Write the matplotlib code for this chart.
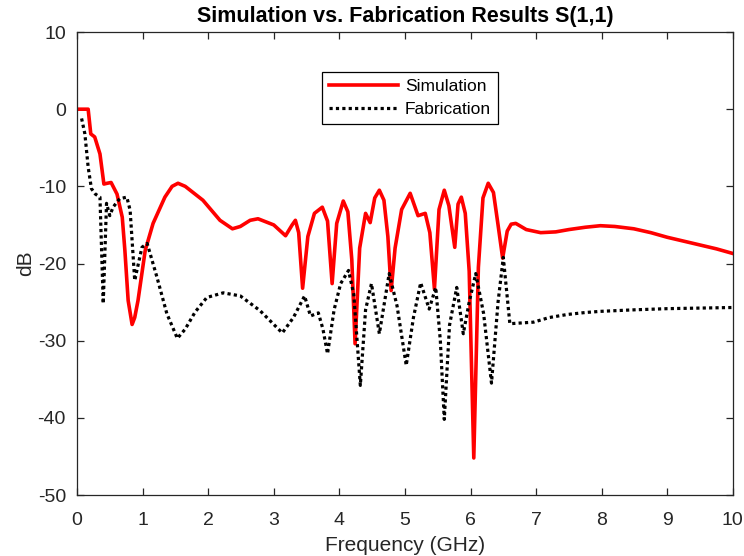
import matplotlib
matplotlib.use("Agg")
import matplotlib.pyplot as plt

plt.rcParams['font.family'] = ['Liberation Sans', 'DejaVu Sans']
plt.rcParams['axes.unicode_minus'] = False

sim_freq = [0, 0.17, 0.21, 0.27, 0.35, 0.41, 0.46, 0.52, 0.61, 0.69, 0.73, 0.78, 0.84, 0.88,
            0.93, 1.04, 1.16, 1.34, 1.45, 1.54, 1.65, 1.92, 2.18, 2.37, 2.49, 2.64, 2.76,
            3.0, 3.18, 3.28, 3.33, 3.38, 3.44, 3.52, 3.62, 3.74, 3.82, 3.89, 3.96, 4.06,
            4.13, 4.19, 4.24, 4.31, 4.40, 4.47, 4.54, 4.61, 4.68, 4.74, 4.79, 4.85, 4.95,
            5.08, 5.20, 5.31, 5.38, 5.45, 5.52, 5.60, 5.67, 5.76, 5.81, 5.86, 5.92, 5.98,
            6.05, 6.12, 6.19, 6.27, 6.35, 6.42, 6.49, 6.56, 6.62, 6.69, 6.85, 7.07, 7.3,
            7.5, 7.75, 7.98, 8.2, 8.49, 8.75, 9.0, 9.25, 9.5, 9.75, 10.0]
sim_db = [0, 0, -3.2, -3.6, -5.8, -9.7, -9.6, -9.5, -11, -14, -18.3, -24.8, -27.9, -27.0,
          -24.8, -18.3, -14.8, -11.4, -10.0, -9.6, -10.0, -11.8, -14.4, -15.5, -15.2, -14.4, -14.2,
          -15.0, -16.4, -15.0, -14.4, -16.0, -23.2, -16.5, -13.5, -12.7, -14.5, -22.6, -14.8, -11.9,
          -13.3, -19.5, -30.4, -18.0, -13.5, -14.7, -11.5, -10.5, -11.8, -16.5, -23.5, -18.0, -13.0,
          -10.9, -13.8, -13.5, -16.0, -23.3, -13.0, -10.5, -12.5, -17.9, -12.3, -11.4, -13.5, -21.0,
          -45.2, -20.5, -11.5, -9.6, -10.8, -15.0, -19.3, -15.8, -14.9, -14.8, -15.6, -16.0, -15.9,
          -15.6, -15.3, -15.1, -15.2, -15.5, -16.0, -16.6, -17.1, -17.6, -18.1, -18.7]

fab_freq = [0.07, 0.12, 0.17, 0.22, 0.28, 0.35, 0.40, 0.45, 0.50, 0.55, 0.65, 0.76, 0.81,
            0.88, 0.99, 1.07, 1.22, 1.37, 1.53, 1.65, 1.80, 1.98, 2.23, 2.49, 2.79, 3.13,
            3.30, 3.47, 3.56, 3.68, 3.75, 3.82, 3.92, 4.02, 4.14, 4.22, 4.32, 4.40, 4.49,
            4.61, 4.76, 4.88, 5.02, 5.13, 5.24, 5.37, 5.47, 5.54, 5.60, 5.68, 5.79, 5.89,
            5.98, 6.08, 6.20, 6.32, 6.42, 6.50, 6.60, 6.96, 7.2, 7.48, 7.75, 7.98, 8.5,
            9.0, 10.0]
fab_db = [-1.2, -3.2, -7.5, -10.3, -11.0, -11.4, -25.2, -12.2, -13.8, -12.7, -11.6, -11.4, -13.1,
          -22.2, -17.9, -17.4, -21.8, -26.5, -29.7, -28.5, -26.3, -24.4, -23.8, -24.2, -26.1, -29.0,
          -27.0, -24.2, -26.8, -26.4, -28.5, -31.7, -26.0, -22.6, -20.9, -24.0, -35.8, -26.0, -22.6,
          -29.1, -21.3, -25.5, -33.2, -27.0, -22.5, -25.9, -23.1, -30.0, -40.2, -28.0, -23.1, -29.1,
          -25.0, -21.3, -26.5, -35.5, -25.0, -19.2, -27.8, -27.6, -27.0, -26.6, -26.35, -26.2, -26.0,
          -25.85, -25.7]

title = "Simulation vs. Fabrication Results S(1,1)"
xlabel = "Frequency (GHz)"
ylabel = "dB"
series_names = ["Simulation", "Fabrication"]

fig = plt.figure(figsize=(7.44, 5.56), dpi=100)
ax = fig.add_axes([0.1035, 0.1097, 0.8815, 0.8327])

ax.plot(sim_freq, sim_db, color='#ff0000', lw=2.6, label=series_names[0], solid_joinstyle='round')
ax.plot(fab_freq, fab_db, color='black', lw=2.3, linestyle=(0, (1, 1)), label=series_names[1])

ax.set_xlim(0, 10)
ax.set_ylim(-50, 10)
ax.set_xticks(range(0, 11))
ax.set_yticks(range(-50, 11, 10))

axcol = '#262626'
for s in ax.spines.values():
    s.set_color(axcol)
    s.set_linewidth(0.9)
ax.tick_params(direction='in', top=True, right=True, length=5, width=0.9,
               colors=axcol, labelsize=14, labelcolor=axcol)
ax.tick_params(axis='x', pad=12)
ax.tick_params(axis='y', pad=8)

ax.set_title(title, fontsize=15.5, fontweight='bold', pad=7)
ax.set_xlabel(xlabel, fontsize=15, color=axcol, labelpad=5)
ax.set_ylabel(ylabel, fontsize=15, color=axcol, labelpad=2)

leg = ax.legend(loc='upper left', bbox_to_anchor=(0.373, 0.914), fontsize=12.5,
                frameon=True, fancybox=False, edgecolor='black', framealpha=1,
                handlelength=4.0, borderpad=0.4, labelspacing=0.45, handletextpad=0.4,
                borderaxespad=0)
leg.get_frame().set_linewidth(0.9)

fig.savefig("out.png", dpi=100)
